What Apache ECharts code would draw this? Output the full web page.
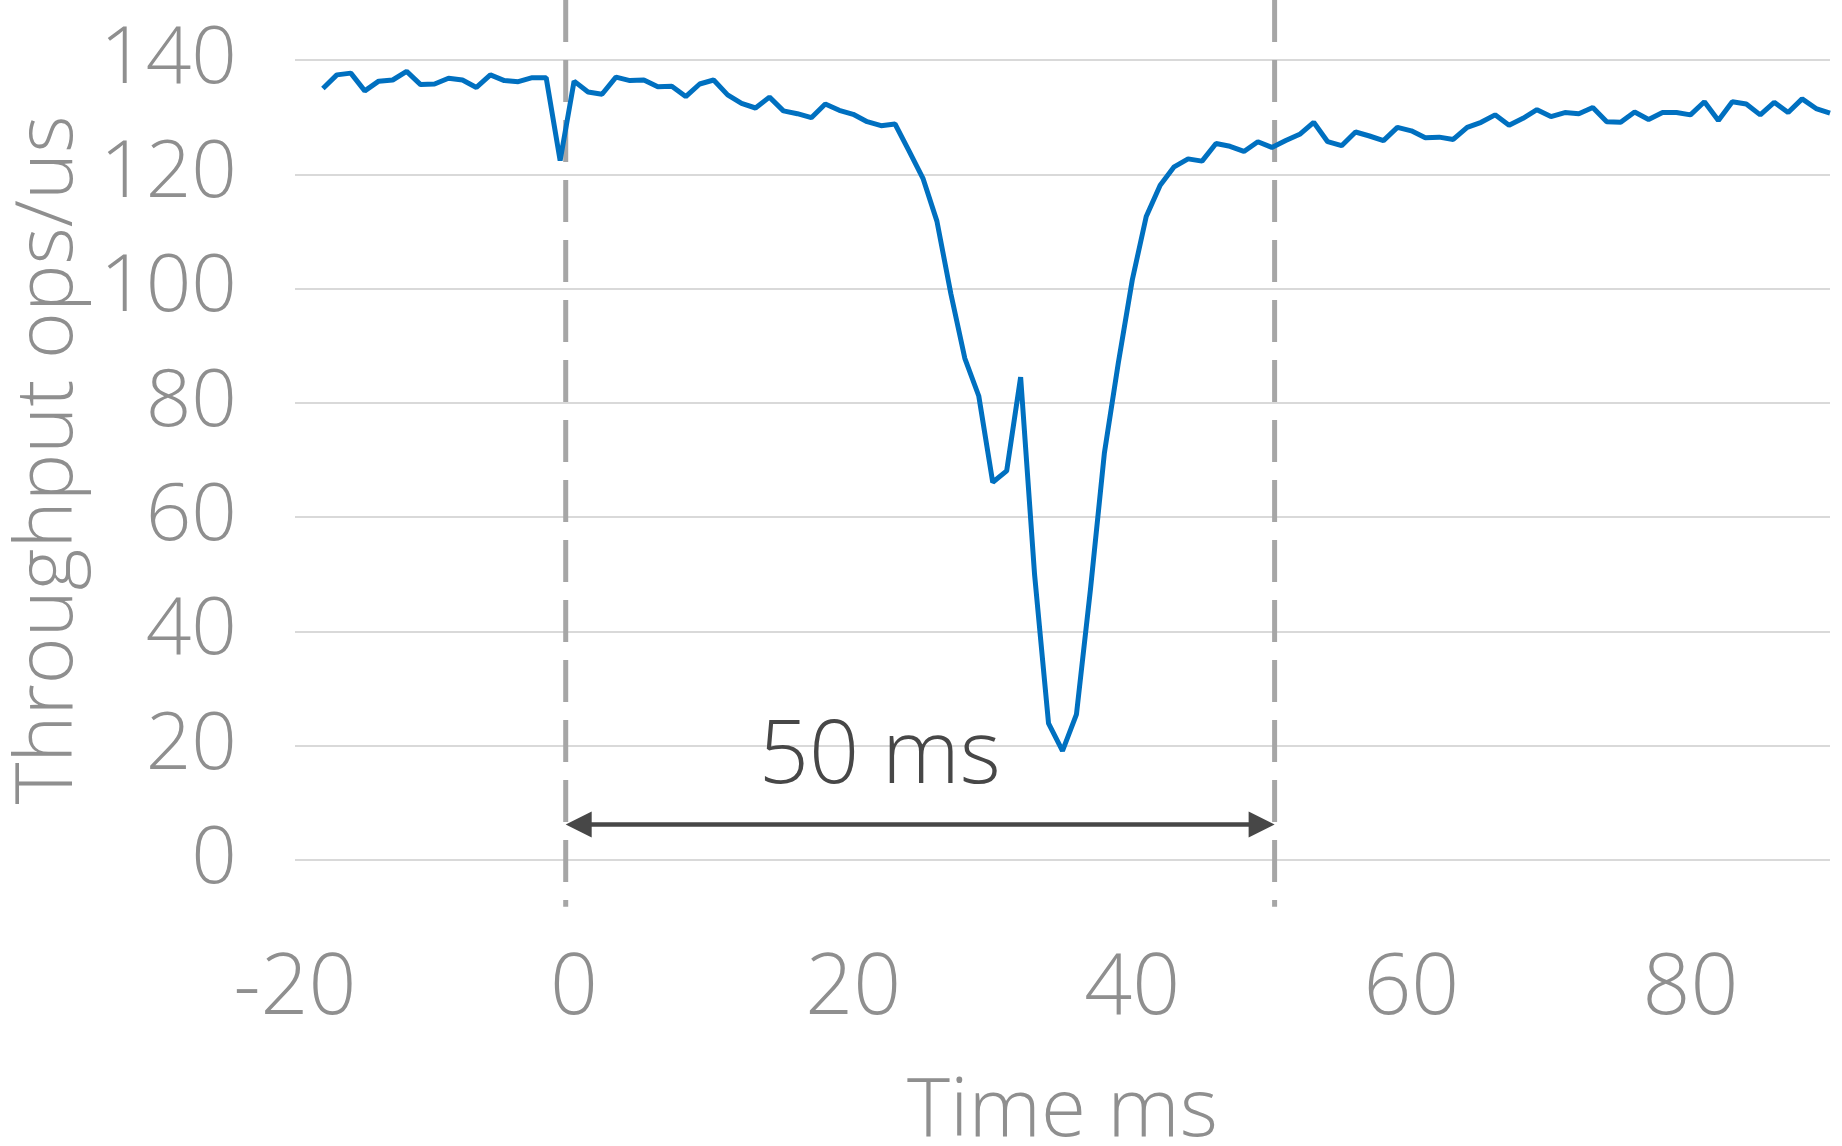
<!DOCTYPE html>
<html>
<head>
<meta charset="utf-8">
<script src="https://cdn.jsdelivr.net/npm/echarts@6/dist/echarts.min.js"></script>
<style>
html,body{margin:0;padding:0;background:#fff;}
#chart{width:1842px;height:1146px;}
</style>
</head>
<body>
<div id="chart"></div>
<script>
// ---- data ----
const timeMs = [-18,-17,-16,-15,-14,-13,-12,-11,-10,-9,-8,-7,-6,-5,-4,-3,-2,-1,
  0,1,2,3,4,5,6,7,8,9,10,11,12,13,14,15,16,17,18,19,20,21,22,23,24,25,26,27,28,29,
  30,31,32,33,34,35,36,37,38,39,40,41,42,43,44,45,46,47,48,49,50,51,52,53,54,55,56,57,58,59,
  60,61,62,63,64,65,66,67,68,69,70,71,72,73,74,75,76,77,78,79,80,81,82,83,84,85,86,87,88,89,90];
const throughput = [135.0,137.4,137.7,134.6,136.3,136.5,138.0,135.7,135.8,136.8,136.5,135.2,137.4,136.4,136.2,136.9,136.9,122.4,
  136.3,134.4,134.0,137.0,136.4,136.5,135.3,135.4,133.6,135.8,136.5,133.9,132.4,131.6,133.5,131.1,130.6,129.9,132.3,131.2,130.5,129.2,128.5,128.8,124.1,119.3,111.8,99.1,87.8,81.2,
  66.1,68.1,84.5,49.9,23.9,19.1,25.5,47.3,71.2,87.0,101.5,112.6,118.1,121.3,122.7,122.3,125.4,124.9,124.0,125.7,124.7,125.9,127.0,129.1,125.7,125.0,127.4,126.7,125.9,128.2,
  127.6,126.4,126.5,126.1,128.2,129.1,130.4,128.6,129.8,131.3,130.1,130.8,130.6,131.7,129.2,129.1,130.9,129.6,130.8,130.8,130.4,132.7,129.4,132.7,132.3,130.4,132.6,130.8,133.2,131.5,130.7];
const xTicks = [-20, 90, 20];          // min, max, interval
const yTicks = [0, 140, 20];           // min, max, interval
const windowStart = -0.6;              // dashed marker lines (ms)
const windowEnd = 50.2;
const dashSpanY = [150.5, -8.2];       // vertical extent of dashed markers (value units)
const arrowY = 6.2;
const arrowLabel = '50 ms';
const arrowLabelPos = [21.9, 17.9];
const xName = 'Time ms';
const yName = 'Throughput ops/us';

const FONT = "'Open Sans', 'Noto Sans', sans-serif";
const GRAY = '#8f8f8f';

const lineData = timeMs.map((t, i) => [t, throughput[i]]);

const chart = echarts.init(document.getElementById('chart'));
const arrowHalf = 0.93; // half arrowhead length in ms
chart.setOption({
  animation: false,
  backgroundColor: '#ffffff',
  grid: {left: 295, right: 12, top: 60, bottom: 286, containLabel: false, outerBoundsMode: 'none'},
  xAxis: {
    type: 'value', min: xTicks[0], max: xTicks[1], interval: xTicks[2],
    axisLine: {show: false}, axisTick: {show: false}, splitLine: {show: false},
    axisLabel: {showMaxLabel: false, color: GRAY, fontFamily: FONT, fontWeight: 300, fontSize: 84, margin: 88},
    name: xName, nameLocation: 'middle', nameGap: 212,
    nameTextStyle: {color: GRAY, fontFamily: FONT, fontWeight: 300, fontSize: 82}
  },
  yAxis: {
    type: 'value', min: yTicks[0], max: yTicks[1], interval: yTicks[2],
    axisLine: {show: false}, axisTick: {show: false},
    splitLine: {show: true, lineStyle: {color: '#d9d9d9', width: 2}},
    axisLabel: {color: GRAY, fontFamily: FONT, fontWeight: 300, fontSize: 80, margin: 58},
    name: yName, nameLocation: 'middle', nameGap: 180, nameRotate: 90,
    nameTextStyle: {color: GRAY, fontFamily: FONT, fontWeight: 300, fontSize: 80}
  },
  series: [
    {
      type: 'line', data: [[windowStart, dashSpanY[0]], [windowStart, dashSpanY[1]]],
      clip: false, symbol: 'none', silent: true,
      lineStyle: {color: '#a6a6a6', width: 5, type: [42, 18]}
    },
    {
      type: 'line', data: [[windowEnd, dashSpanY[0]], [windowEnd, dashSpanY[1]]],
      clip: false, symbol: 'none', silent: true,
      lineStyle: {color: '#a6a6a6', width: 5, type: [42, 18]}
    },
    {
      type: 'line', data: lineData, symbol: 'none',
      lineStyle: {color: '#0070C0', width: 5},
      z: 5,
      markLine: {
        silent: true, animation: false,
        symbol: ['triangle', 'triangle'], symbolSize: [26, 26],
        lineStyle: {color: '#474747', width: 4.5, type: 'solid'},
        label: {show: false},
        data: [[{coord: [windowStart + arrowHalf, arrowY]}, {coord: [windowEnd - arrowHalf, arrowY]}]]
      },
      markPoint: {
        silent: true, animation: false,
        symbol: 'circle', symbolSize: 0,
        label: {show: true, position: 'inside', formatter: arrowLabel, color: '#474747',
          fontFamily: FONT, fontWeight: 300, fontSize: 88},
        data: [{coord: arrowLabelPos}]
      }
    }
  ]
});
</script>
</body>
</html>
